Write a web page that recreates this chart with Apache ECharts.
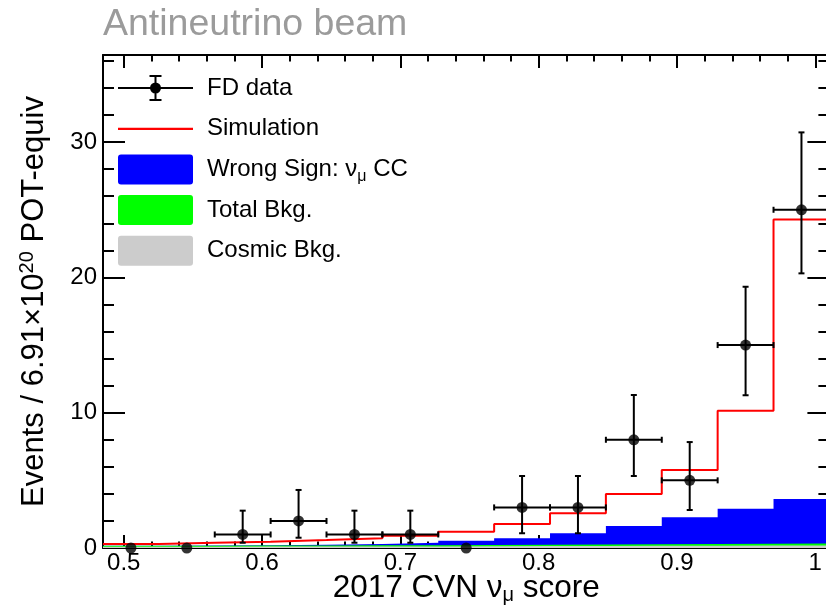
<!DOCTYPE html>
<html><head><meta charset="utf-8">
<script src="https://cdn.jsdelivr.net/npm/echarts@6/dist/echarts.min.js"></script>
<style>html,body{margin:0;padding:0;background:#fff;overflow:hidden}#c{width:826px;height:607px}</style>
</head><body><div id="c"></div>
<script>
// ---- data ----
const binEdges    = [0.485, 0.5254, 0.5658, 0.6062, 0.6466, 0.6870, 0.7274, 0.7678, 0.8082, 0.8486, 0.8890, 0.9294, 0.9698, 1.0102];
const fdData      = [0, 0, 1, 2, 1, 1, 0, 3, 3, 8, 5, 15, 25];
const fdErrLow    = [0, 0, 0.61, 1.24, 0.61, 0.61, 0, 1.91, 1.91, 2.68, 2.19, 3.71, 4.70];
const fdErrHigh   = [0, 0, 1.76, 2.29, 1.76, 1.76, 0, 2.32, 2.32, 3.31, 2.83, 4.31, 5.72];
const simulation  = [0.30, 0.39, 0.47, 0.59, 0.72, 0.91, 1.21, 1.78, 2.57, 3.99, 5.76, 10.15, 24.29];
const wrongSign   = [0.16, 0.18, 0.21, 0.24, 0.30, 0.39, 0.54, 0.72, 1.09, 1.63, 2.27, 2.90, 3.62];
const totalBkg    = [0.16, 0.17, 0.18, 0.19, 0.20, 0.21, 0.22, 0.24, 0.25, 0.27, 0.29, 0.31, 0.33];
const cosmicBkg   = [0.10, 0.10, 0.11, 0.11, 0.12, 0.12, 0.13, 0.14, 0.15, 0.16, 0.17, 0.18, 0.19];
const xMajorTicks = [0.5, 0.6, 0.7, 0.8, 0.9, 1.0];
const xTickLabels = ['0.5', '0.6', '0.7', '0.8', '0.9', '1'];
const xMinorTicks = [0.52, 0.54, 0.56, 0.58, 0.62, 0.64, 0.66, 0.68, 0.72, 0.74, 0.76, 0.78, 0.82, 0.84, 0.86, 0.88, 0.92, 0.94, 0.96, 0.98];
const yMajorTicks = [0, 10, 20, 30];
const yTickLabels = ['0', '10', '20', '30'];
const yMinorTicks = [2, 4, 6, 8, 12, 14, 16, 18, 22, 24, 26, 28, 32, 34, 36];
const WS_NAME = 'Wrong Sign: νμ CC';

// ---- chart ----
const FONT = "'Liberation Sans', Arial, Helvetica, sans-serif";
const XMIN = 0.485, XMAX = 1.0102, YMIN = 0, YMAX = 36.44;
const chart = echarts.init(document.getElementById('c'), null, { renderer: 'canvas' });

function stepData(vals) {
  const d = vals.map((v, i) => [binEdges[i], v]);
  d.push([binEdges[vals.length], vals[vals.length - 1]]);
  return d;
}
const fdTable = fdData.map((v, i) => [(binEdges[i] + binEdges[i + 1]) / 2, v, fdErrLow[i], fdErrHigh[i], binEdges[i], binEdges[i + 1]]);

function xAxisDef(pos, major, showLabel) {
  return {
    type: 'value', position: pos, min: XMIN, max: XMAX, gridIndex: 0,
    axisLine: { show: major, onZero: false, lineStyle: { color: '#000', width: 2 } },
    axisTick: { show: true, inside: true, length: major ? 13 : 6.5, customValues: major ? xMajorTicks : xMinorTicks, lineStyle: { color: '#000', width: 2 } },
    axisLabel: showLabel ? {
      show: true, customValues: xMajorTicks, margin: 3, color: '#000', fontSize: 24, fontFamily: FONT,
      formatter: v => { const k = xMajorTicks.findIndex(t => Math.abs(t - v) < 1e-9); return k >= 0 ? xTickLabels[k] : String(v); }
    } : { show: false },
    splitLine: { show: false }, minorTick: { show: false }
  };
}
function yAxisDef(pos, major, showLabel) {
  return {
    type: 'value', position: pos, min: YMIN, max: YMAX, gridIndex: 0,
    axisLine: { show: major, onZero: false, lineStyle: { color: '#000', width: 2 } },
    axisTick: { show: true, inside: true, length: major ? 22 : 11, customValues: major ? yMajorTicks : yMinorTicks, lineStyle: { color: '#000', width: 2 } },
    axisLabel: showLabel ? {
      show: true, customValues: yMajorTicks, margin: 6, color: '#000', fontSize: 24, fontFamily: FONT,
      formatter: v => { const k = yMajorTicks.indexOf(v); return k >= 0 ? yTickLabels[k] : String(v); }
    } : { show: false },
    splitLine: { show: false }, minorTick: { show: false }
  };
}

const xA = [xAxisDef('bottom', true, true), xAxisDef('bottom', false, false), xAxisDef('top', true, false), xAxisDef('top', false, false)];
Object.assign(xA[0], {
  name: '2017 CVN ν{sub|μ} score', nameLocation: 'middle', nameGap: 23, nameMoveOverlap: false,
  nameTextStyle: { fontSize: 31.5, fontFamily: FONT, color: '#000', lineHeight: 34,
    rich: { sub: { fontSize: 20, fontFamily: FONT, color: '#000', verticalAlign: 'bottom', lineHeight: 19 } } }
});
const yA = [yAxisDef('left', true, true), yAxisDef('left', false, false), yAxisDef('right', true, false), yAxisDef('right', false, false)];
Object.assign(yA[0], {
  name: 'Events / 6.91×10{sup|20} POT-equiv', nameLocation: 'middle', nameRotate: 90, nameGap: 52, nameMoveOverlap: false,
  nameTextStyle: { fontSize: 31, fontFamily: FONT, color: '#000', lineHeight: 34,
    rich: { sup: { fontSize: 20, fontFamily: FONT, color: '#000', verticalAlign: 'top', lineHeight: 19 } } }
});

const boxIcon = 'path://M3,0 L72,0 Q75,0 75,3 L75,27 Q75,30 72,30 L3,30 Q0,30 0,27 L0,3 Q0,0 3,0 Z';
const lineIcon = 'path://M0,0 M0,14 L75,14 L75,16.2 L0,16.2 Z M75,30';
const fdIcon = 'path://M0,0 M0,14 L75,14 L75,16 L0,16 Z M36.5,3 L38.5,3 L38.5,27 L36.5,27 Z M31.5,2 L43.5,2 L43.5,4 L31.5,4 Z M31.5,26 L43.5,26 L43.5,28 L31.5,28 Z M32,15 A5.5,5.5 0 1 1 43,15 A5.5,5.5 0 1 1 32,15 Z M75,30';

function fillSeries(name, vals, color) {
  return {
    name, type: 'line', step: 'end', data: stepData(vals), symbol: 'none', silent: true,
    xAxisIndex: 0, yAxisIndex: 0, color,
    lineStyle: { color, width: 0 }, itemStyle: { color }, areaStyle: { color, opacity: 1, origin: 'start' }
  };
}

chart.setOption({
  animation: false,
  backgroundColor: '#fff',
  title: { text: 'Antineutrino beam', left: 103, top: 6, padding: 0,
    textStyle: { fontSize: 37.5, fontWeight: 'normal', color: '#9b9b9b', fontFamily: FONT } },
  grid: { left: 103, top: 55, right: -3.4, bottom: 59, containLabel: false, outerBoundsMode: 'none', show: false },
  legend: {
    orient: 'vertical', left: 118, top: 73, padding: 0, itemGap: 10.7, itemWidth: 75, itemHeight: 30,
    symbolKeepAspect: false, selectedMode: false,
    textStyle: { fontSize: 24, fontFamily: FONT, color: '#000', lineHeight: 30, padding: [0, 0, 0, 9],
      rich: { sub: { fontSize: 16, fontFamily: FONT, color: '#000', verticalAlign: 'bottom', lineHeight: 18 } } },
    formatter: n => n === WS_NAME ? 'Wrong Sign: ν{sub|μ} CC' : n,
    data: [
      { name: 'FD data', icon: fdIcon },
      { name: 'Simulation', icon: lineIcon },
      { name: WS_NAME, icon: boxIcon },
      { name: 'Total Bkg.', icon: boxIcon },
      { name: 'Cosmic Bkg.', icon: boxIcon }
    ]
  },
  xAxis: xA,
  yAxis: yA,
  series: [
    fillSeries(WS_NAME, wrongSign, '#0000ff'),
    fillSeries('Total Bkg.', totalBkg, '#00ff00'),
    fillSeries('Cosmic Bkg.', cosmicBkg, '#cccccc'),
    {
      name: 'Simulation', type: 'line', step: 'end', data: stepData(simulation), symbol: 'none', silent: true,
      color: '#ff0000', lineStyle: { color: '#ff0000', width: 2 }, itemStyle: { color: '#ff0000' }
    },
    {
      name: 'FD data', type: 'custom', silent: true, itemStyle: { color: '#000' }, color: '#000', z: 5,
      data: fdTable,
      renderItem: (params, api) => {
        const c = api.value(0), v = api.value(1), lo = api.value(2), hi = api.value(3), l = api.value(4), r = api.value(5);
        if (v === 0) return null;
        const pL = api.coord([l, v]), pR = api.coord([r, v]), pT = api.coord([c, v + hi]), pB = api.coord([c, v - lo]);
        const st = { stroke: '#000', lineWidth: 2, fill: null };
        const ln = (x1, y1, x2, y2) => ({ type: 'line', shape: { x1, y1, x2, y2 }, style: st });
        return { type: 'group', children: [
          ln(pL[0], pL[1], pR[0], pR[1]),
          ln(pL[0], pL[1] - 3, pL[0], pL[1] + 3),
          ln(pR[0], pR[1] - 3, pR[0], pR[1] + 3),
          ln(pT[0], pT[1], pB[0], pB[1]),
          ln(pT[0] - 3, pT[1], pT[0] + 3, pT[1]),
          ln(pB[0] - 3, pB[1], pB[0] + 3, pB[1])
        ] };
      }
    },
    {
      name: 'FD data', type: 'scatter', silent: true, clip: false, symbol: 'circle', symbolSize: 11, z: 6,
      itemStyle: { color: '#000' }, color: '#000',
      data: fdTable.map(d => [d[0], d[1]])
    }
  ]
});
</script>
</body></html>
